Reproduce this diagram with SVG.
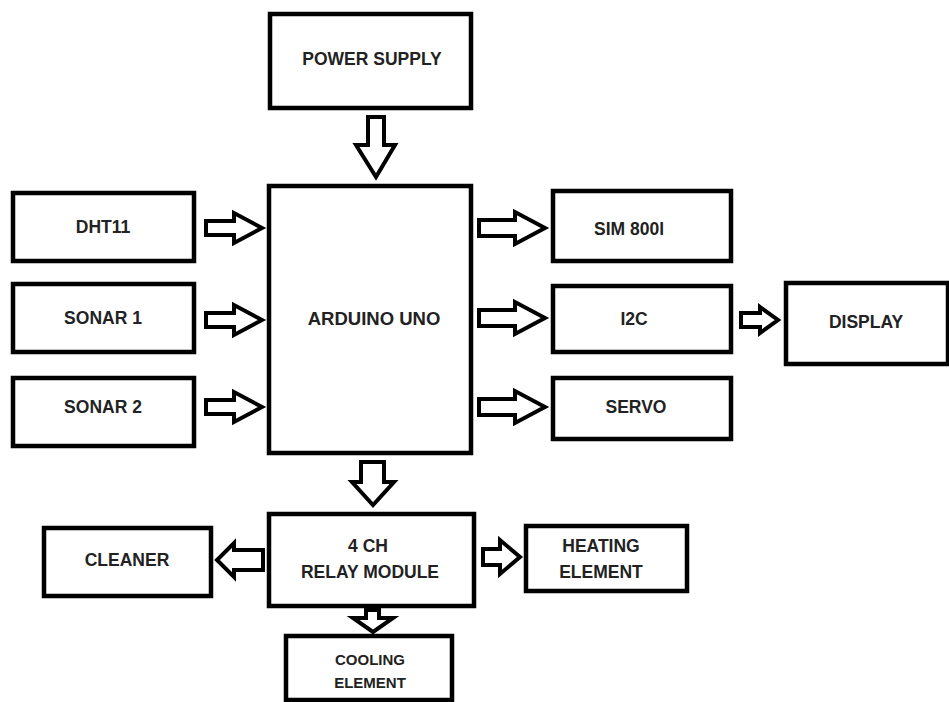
<svg xmlns="http://www.w3.org/2000/svg" width="949" height="702" viewBox="0 0 949 702">
<style>
.box{fill:#fff;stroke:#000;stroke-width:4.5}
.arr{fill:#fff;stroke:#000;stroke-width:4;stroke-linejoin:miter}
text{font-family:"Liberation Sans",Arial,sans-serif;font-weight:bold;font-size:17.5px;fill:#222;text-anchor:middle}
.sm{font-size:15px}
</style>
<rect width="949" height="702" fill="#fff"/>
<g id="power"><rect class="box" x="270" y="14" width="201" height="94"/><text x="372" y="65">POWER SUPPLY</text></g>
<g id="arduino"><rect class="box" x="269" y="186" width="202" height="267"/><text x="374" y="325" style="font-size:18.5px">ARDUINO UNO</text></g>
<g id="dht11"><rect class="box" x="13" y="193" width="181" height="68"/><text x="103" y="233">DHT11</text></g>
<g id="sonar1"><rect class="box" x="13" y="284" width="181" height="68"/><text x="103" y="324">SONAR 1</text></g>
<g id="sonar2"><rect class="box" x="13" y="378" width="181" height="68"/><text x="103" y="413">SONAR 2</text></g>
<g id="sim"><rect class="box" x="553" y="191" width="178" height="70"/><text x="629" y="235">SIM 800l</text></g>
<g id="i2c"><rect class="box" x="553" y="286" width="178" height="66"/><text x="634" y="325">I2C</text></g>
<g id="servo"><rect class="box" x="553" y="378" width="178" height="61"/><text x="636" y="413">SERVO</text></g>
<g id="display"><rect class="box" x="786" y="283" width="162" height="81"/><text x="866" y="328">DISPLAY</text></g>
<g id="relay"><rect class="box" x="269" y="514" width="205" height="92"/><text x="368" y="552">4 CH</text><text x="370" y="578">RELAY MODULE</text></g>
<g id="cleaner"><rect class="box" x="44" y="528" width="167" height="68"/><text x="127" y="566">CLEANER</text></g>
<g id="heating"><rect class="box" x="526" y="526" width="161" height="65"/><text x="601" y="552">HEATING</text><text x="601" y="578">ELEMENT</text></g>
<g id="cooling"><rect class="box" x="286" y="636" width="166" height="64"/><text class="sm" x="370" y="665">COOLING</text><text class="sm" x="370" y="688">ELEMENT</text></g>
<g id="connectors">
<polygon class="arr" points="368,117 384,117 384,145 395,145 376,177 356,145 368,145"/>
<polygon class="arr" points="206,221 234,221 234,213 262,228 234,243 234,235 206,235"/>
<polygon class="arr" points="206,313 234,313 234,305 262,320 234,335 234,327 206,327"/>
<polygon class="arr" points="206,400 234,400 234,392 262,407 234,422 234,414 206,414"/>
<polygon class="arr" points="479,220 515,220 515,212 545,228 515,244 515,236 479,236"/>
<polygon class="arr" points="479,310 515,310 515,302 545,318 515,334 515,326 479,326"/>
<polygon class="arr" points="479,399 515,399 515,391 545,407 515,423 515,415 479,415"/>
<polygon class="arr" points="741,313 760,313 760,307 778,320 760,333 760,327 741,327"/>
<polygon class="arr" points="361,462 384,462 384,482 394,482 373,505 352,482 361,482"/>
<polygon class="arr" points="263,550 234,550 234,543 217,560 234,577 234,570 263,570"/>
<polygon class="arr" points="483,549 500,549 500,540 520,557 500,574 500,565 483,565"/>
<polygon class="arr" points="366,610 379,610 379,618 393,618 373,632 353,618 366,618"/>
</g>
</svg>
